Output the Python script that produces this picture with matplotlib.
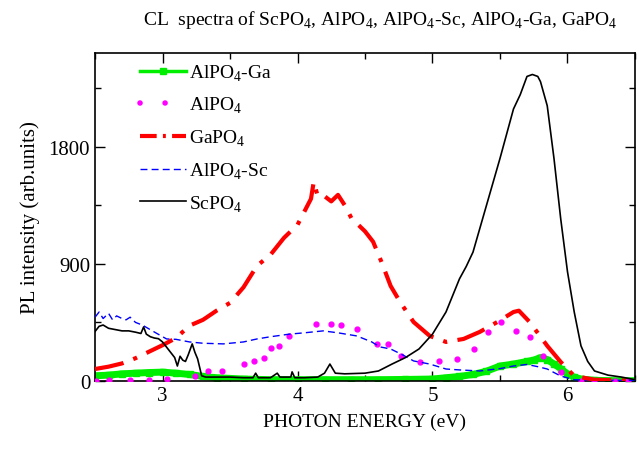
import matplotlib.pyplot as plt
from matplotlib.lines import Line2D
from matplotlib.ticker import MultipleLocator

plt.rcParams['font.family'] = ['Liberation Serif', 'DejaVu Serif']
plt.rcParams['mathtext.fontset'] = 'custom'
plt.rcParams['mathtext.rm'] = 'Liberation Serif'

# ScPO4 (black solid)
sc_e = [2.5, 2.53, 2.56, 2.6, 2.65, 2.7, 2.75, 2.8, 2.84, 2.86, 2.88, 2.91, 2.94, 2.97,
        3.0, 3.03, 3.06, 3.09, 3.11, 3.13, 3.15, 3.17, 3.19, 3.22, 3.24, 3.26, 3.29,
        3.32, 3.4, 3.5, 3.6, 3.67, 3.69, 3.71, 3.8, 3.85, 3.87, 3.9, 3.95, 3.96, 3.98,
        4.05, 4.15, 4.2, 4.24, 4.28, 4.35, 4.5, 4.6, 4.7, 4.8, 4.9, 5.0, 5.1, 5.2, 5.25,
        5.3, 5.4, 5.5, 5.6, 5.65, 5.7, 5.74, 5.78, 5.8, 5.85, 5.9, 5.95, 6.0, 6.05, 6.1,
        6.15, 6.2, 6.3, 6.4, 6.5]
sc_i = [380, 420, 430, 405, 395, 385, 385, 375, 365, 415, 360, 340, 330, 325,
        300, 260, 220, 180, 115, 190, 160, 150, 200, 285, 220, 170, 40,
        30, 30, 30, 25, 25, 60, 25, 25, 60, 30, 30, 30, 70, 25,
        25, 30, 60, 130, 60, 55, 60, 77, 130, 180, 246, 360, 530, 785, 880,
        990, 1350, 1710, 2090, 2200, 2340, 2355, 2340, 2300, 2115, 1710, 1245, 840, 530, 270,
        150, 77, 45, 30, 10]

# GaPO4 (red dash-dot)
ga_e = [2.5, 2.6, 2.7, 2.8, 2.9, 3.0, 3.1, 3.2, 3.3, 3.4, 3.5, 3.6, 3.7, 3.8, 3.9, 4.0,
        4.05, 4.1, 4.12, 4.15, 4.2, 4.25, 4.3, 4.35, 4.4, 4.45, 4.5, 4.56, 4.62, 4.69,
        4.76, 4.86, 4.98, 5.1, 5.23, 5.35, 5.48, 5.6, 5.64, 5.72, 5.85, 5.95, 6.05, 6.2,
        6.35, 6.5]
ga_i = [92, 110, 135, 175, 225, 275, 330, 425, 470, 540, 600, 720, 885, 970, 1100, 1200,
        1300, 1400, 1530, 1420, 1420, 1380, 1430, 1350, 1250, 1200, 1150, 1070, 920, 730,
        607, 453, 346, 300, 323, 377, 453, 530, 540, 453, 270, 146, 38, 10,
        5, 3]

# AlPO4-Sc (blue dashed)
alsc_e = [2.5, 2.53, 2.56, 2.6, 2.63, 2.66, 2.7, 2.73, 2.76, 2.8, 2.85, 2.9, 2.95, 3.03,
          3.1, 3.2, 3.3, 3.45, 3.6, 3.7, 3.8, 3.94, 4.05, 4.19, 4.3, 4.44, 4.55, 4.61,
          4.69, 4.78, 4.86, 4.98, 5.1, 5.2, 5.35, 5.5, 5.6, 5.7, 5.78, 5.85, 5.95, 6.05,
          6.2, 6.35, 6.5]
alsc_i = [490, 530, 480, 520, 470, 500, 480, 470, 490, 450, 430, 400, 370, 323,
          320, 300, 290, 285, 300, 323, 340, 360, 370, 385, 370, 346, 300, 262,
          246, 200, 154, 130, 92, 85, 77, 95, 115, 127, 110, 92, 38, 10,
          5, 5, 5]

# AlPO4 (magenta dots)
al_e = [2.51, 2.6, 2.76, 2.9, 3.03, 3.24, 3.34, 3.44, 3.6, 3.68, 3.75, 3.8, 3.86, 3.94,
        4.14, 4.25, 4.32, 4.44, 4.59, 4.67, 4.77, 4.91, 5.05, 5.18, 5.31, 5.41, 5.51,
        5.62, 5.72, 5.82, 5.95, 6.1, 6.2, 6.35, 6.45]
al_i = [3, 5, 5, 8, 12, 38, 77, 77, 130, 150, 177, 250, 270, 346,
        438, 438, 430, 400, 285, 285, 192, 146, 154, 170, 246, 377, 453,
        385, 338, 192, 69, 3, 3, 3, 3]

# AlPO4-Ga (green)
alga_e = [2.5, 2.6, 2.7, 2.8, 2.9, 3.0, 3.1, 3.2, 3.3, 3.4, 3.6, 3.8, 4.0, 4.2, 4.4, 4.6,
          4.8, 5.0, 5.1, 5.2, 5.3, 5.4, 5.5, 5.6, 5.7, 5.75, 5.8, 5.85, 5.9, 5.95, 6.0,
          6.05, 6.1, 6.2, 6.3, 6.4, 6.5]
alga_i = [40, 45, 55, 60, 65, 68, 60, 50, 35, 25, 15, 10, 10, 10, 10, 10,
          12, 15, 25, 35, 50, 75, 115, 130, 150, 160, 180, 165, 130, 95, 55,
          30, 15, 5, 3, 2, 2]

fig = plt.figure(figsize=(6.39, 4.52), dpi=100)
ax = fig.add_axes([0.1487, 0.1549, 0.845, 0.7256])

ax.plot(alga_e, alga_i, color='#00ee00', lw=5, marker='s', ms=5, zorder=2)
ax.plot(al_e, al_i, color='#ff00ff', ls='none', marker='o', ms=3.5, zorder=3)
ax.plot(ga_e, ga_i, color='red', lw=3, ls=(0, (7, 2.5, 1, 2.5)), zorder=4)
ax.plot(alsc_e, alsc_i, color='blue', lw=1, ls=(0, (5, 3)), zorder=3)
ax.plot(sc_e, sc_i, color='black', lw=1.2, zorder=5)

handles = [
    Line2D([], [], color='#00ee00', lw=2.5, marker='s', ms=5),
    Line2D([], [], color='#ff00ff', lw=4, ls=(0, (0.01, 4.5)), dash_capstyle='round'),
    Line2D([], [], color='red', lw=3, ls=(0, (4, 1.5, 0.7, 1.5))),
    Line2D([], [], color='blue', lw=1, ls=(0, (5, 3))),
    Line2D([], [], color='black', lw=1.2),
]
labels = ['AlPO$_4$-Ga', 'AlPO$_4$', 'GaPO$_4$', 'AlPO$_4$-Sc', 'ScPO$_4$']
ax.legend(handles, labels, loc='upper left', frameon=False, fontsize=14,
          handlelength=2.4, handletextpad=0.15, labelspacing=0.64,
          bbox_to_anchor=(0.05, 1.025))

ax.set_xlim(2.5, 6.5)
ax.set_ylim(0, 2520)
ax.xaxis.set_major_locator(MultipleLocator(1))
ax.xaxis.set_minor_locator(MultipleLocator(0.5))
ax.yaxis.set_major_locator(MultipleLocator(900))
ax.yaxis.set_minor_locator(MultipleLocator(450))
ax.tick_params(which='both', direction='in', top=True, right=True, labelsize=15)
ax.tick_params(which='major', length=7, width=1)
ax.tick_params(which='minor', length=4, width=1)
for s in ax.spines.values():
    s.set_linewidth(1.2)

ax.set_xlabel('PHOTON ENERGY (eV)', fontsize=14, labelpad=6)
ax.set_ylabel('PL intensity (arb.units)', fontsize=15, labelpad=6)
fig.text(0.595, 0.955, 'CL  spectra of ScPO$_4$, AlPO$_4$, AlPO$_4$-Sc, AlPO$_4$-Ga, GaPO$_4$',
         ha='center', va='center', fontsize=14)

fig.savefig('out.png', dpi=100)
